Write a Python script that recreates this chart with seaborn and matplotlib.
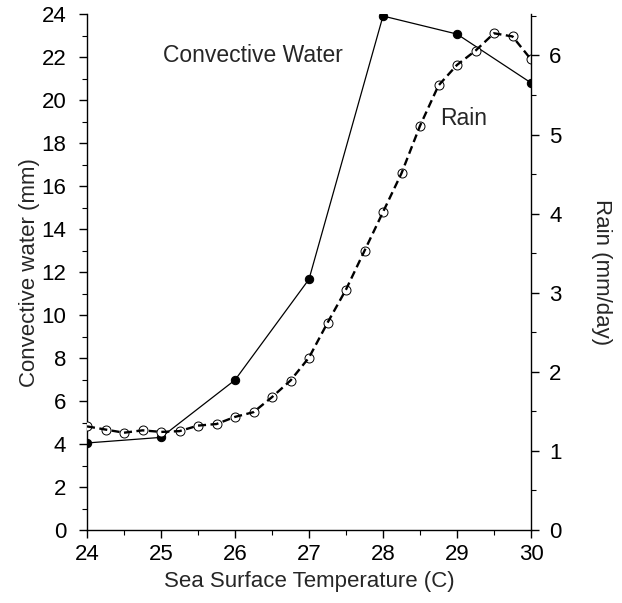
import numpy as np
import pandas as pd
import matplotlib
matplotlib.use("Agg")
import matplotlib.pyplot as plt
from matplotlib.ticker import MultipleLocator
import seaborn as sns

sst_conv = [24, 25, 26, 27, 28, 29, 30]
conv_water = [4.05, 4.31, 6.98, 11.67, 23.92, 23.08, 20.81]

sst_rain = [24.0, 24.25, 24.5, 24.75, 25.0, 25.25, 25.5, 25.75, 26.0, 26.25,
            26.5, 26.75, 27.0, 27.25, 27.5, 27.75, 28.0, 28.25, 28.5, 28.75,
            29.0, 29.25, 29.5, 29.75, 30.0]
rain = [1.31, 1.27, 1.23, 1.26, 1.24, 1.25, 1.32, 1.34, 1.43, 1.49,
        1.68, 1.89, 2.18, 2.62, 3.04, 3.53, 4.02, 4.51, 5.11, 5.62,
        5.88, 6.06, 6.28, 6.24, 5.95]

x_ticks = [24, 25, 26, 27, 28, 29, 30]
left_ticks = [0, 2, 4, 6, 8, 10, 12, 14, 16, 18, 20, 22, 24]
right_ticks = [0, 1, 2, 3, 4, 5, 6]

df_conv = pd.DataFrame({"sst": sst_conv, "water": conv_water})
df_rain = pd.DataFrame({"sst": sst_rain, "rain": rain})

sns.set_theme(style="ticks")
plt.rcParams["font.family"] = ["Liberation Sans", "DejaVu Sans"]
plt.rcParams["axes.linewidth"] = 1.0

fig = plt.figure(figsize=(6.22, 6.03), dpi=100)
ax = fig.add_axes([87 / 622, 1 - 530 / 603, (531 - 87) / 622, (530 - 14.3) / 603])
ax2 = ax.twinx()

sns.lineplot(data=df_conv, x="sst", y="water", ax=ax, color="black", lw=0.9,
             marker="o", markersize=6, markeredgecolor="black",
             markerfacecolor="black", zorder=3)

sns.scatterplot(data=df_rain, x="sst", y="rain", ax=ax2, s=42,
                facecolor="white", edgecolor="black", linewidth=0.7, zorder=2)
sns.lineplot(data=df_rain, x="sst", y="rain", ax=ax2, color="black", lw=1.7,
             dashes=False, zorder=3)
ax2.lines[-1].set_linestyle((0, (3.4, 1.9)))

ax.set_xlim(24, 30)
ax.set_ylim(0, 24)
ax2.set_ylim(0, 6.52)

ax.set_xticks(x_ticks)
ax.set_xticklabels([str(t) for t in x_ticks])
ax.set_yticks(left_ticks)
ax.set_yticklabels([str(t) for t in left_ticks])
ax2.set_yticks(right_ticks)
ax2.set_yticklabels([str(t) for t in right_ticks])
ax.xaxis.set_minor_locator(MultipleLocator(0.5))
ax.yaxis.set_minor_locator(MultipleLocator(1))
ax2.yaxis.set_minor_locator(MultipleLocator(0.5))

for a in (ax, ax2):
    a.tick_params(axis="both", which="major", direction="out", length=6,
                  width=1, labelsize=16, color="black", labelcolor="black")
    a.tick_params(axis="both", which="minor", direction="out", length=3.5,
                  width=0.8, color="black")
    a.spines["top"].set_visible(False)
    for s in a.spines.values():
        s.set_color("black")
ax.tick_params(axis="y", which="major", pad=9)
ax.tick_params(axis="x", which="major", pad=4)
ax2.tick_params(axis="y", which="major", pad=7)
ax.spines["right"].set_visible(False)
ax2.spines["left"].set_visible(False)
ax2.spines["bottom"].set_visible(False)
ax2.spines["right"].set_visible(True)

ax.set_xlabel("Sea Surface Temperature (C)", fontsize=16)
ax.set_ylabel("Convective water (mm)", fontsize=16)
ax2.set_ylabel("Rain (mm/day)", fontsize=16, rotation=-90)
ax.xaxis.set_label_coords(0.5, -0.1)
ax.yaxis.set_label_coords(-0.13, 0.5)
ax2.yaxis.set_label_coords(1.158, 0.5)
ax.xaxis.label.set_va("center")
ax.yaxis.label.set_va("center")
ax2.yaxis.label.set_va("center")

ax.text(25.03, 22.1, "Convective Water", fontsize=16.5, ha="left", va="center")
ax.text(28.77, 19.17, "Rain", fontsize=16.5, ha="left", va="center")

fig.savefig("out.png", dpi=100)
